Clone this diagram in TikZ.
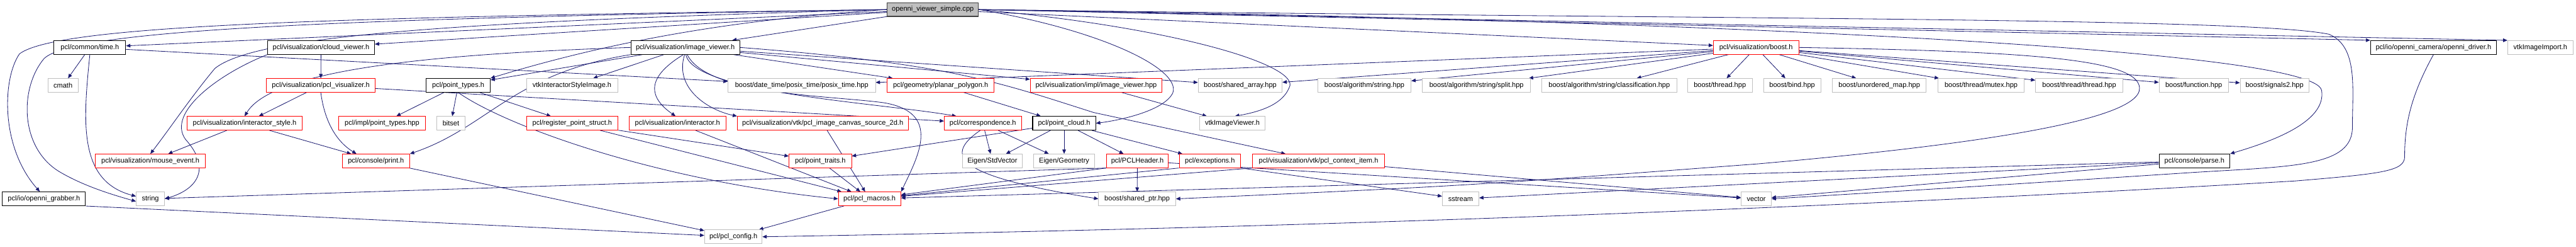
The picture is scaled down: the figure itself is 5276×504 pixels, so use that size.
\documentclass[tikz,border=0pt]{standalone}
\usepackage{fontspec}
\setmainfont{Liberation Sans}
\usetikzlibrary{arrows.meta,backgrounds}
\definecolor{edg}{HTML}{191970}
\definecolor{gbd}{HTML}{BFBFBF}
\definecolor{rbd}{HTML}{FF0000}
\definecolor{rootfill}{HTML}{BFBFBF}
\definecolor{rootbd}{HTML}{404040}

\begin{document}
\begin{tikzpicture}[
  x=0.02cm, y=-0.02cm,
  font=\fontsize{8.1}{9.7}\selectfont,
  hdr/.style={draw, fill=white, minimum height=0.56cm, inner sep=0pt, line width=0.6pt},
  blkbox/.style={hdr, draw=black, line width=0.8pt},
  redbox/.style={hdr, draw=rbd},
  grybox/.style={hdr, draw=gbd},
  rootbox/.style={hdr, draw=rootbd, fill=rootfill, line width=0.8pt},
  >={Triangle[length=5pt,width=4.2pt]},
  dep/.style={->, draw=edg, line width=0.6pt}
]
\useasboundingbox (0,0) rectangle (5276,504);
% ---------------------------------------------------------------- row 1
\node[rootbox, minimum width=3.74cm] (root) at (1910.5,19.5) {openni\_viewer\_simple.cpp};

% ---------------------------------------------------------------- row 2
\node[blkbox, minimum width=2.94cm] (time) at (184,97) {pcl/common/time.h};
\node[blkbox, minimum width=4.38cm] (cloudv) at (657.5,97) {pcl/visualization/cloud\_viewer.h};
\node[blkbox, minimum width=4.46cm] (imgv) at (1403.5,97) {pcl/visualization/image\_viewer.h};
\node[redbox, minimum width=3.50cm] (vboost) at (3596.5,97) {pcl/visualization/boost.h};
\node[blkbox, minimum width=5.16cm] (driver) at (4984,97) {pcl/io/openni\_camera/openni\_driver.h};
\node[grybox, minimum width=2.68cm] (vtkimport) at (5203,97) {vtkImageImport.h};

% ---------------------------------------------------------------- row 3
\node[grybox, minimum width=1.24cm] (cmath) at (129,174.5) {cmath};
\node[redbox, minimum width=4.44cm] (pclvis) at (657,174.5) {pcl/visualization/pcl\_visualizer.h};
\node[blkbox, minimum width=2.62cm] (ptypes) at (938.5,174.5) {pcl/point\_types.h};
\node[grybox, minimum width=3.74cm] (vtkstyle) at (1171.5,174.5) {vtkInteractorStyleImage.h};
\node[grybox, minimum width=6.04cm] (posix) at (1642,174.5) {boost/date\_time/posix\_time/posix\_time.hpp};
\node[redbox, minimum width=4.38cm] (planar) at (1926.5,174.5) {pcl/geometry/planar\_polygon.h};
\node[redbox, minimum width=5.40cm] (imghpp) at (2245,174.5) {pcl/visualization/impl/image\_viewer.hpp};
\node[grybox, minimum width=3.44cm] (sharr) at (2540,174.5) {boost/shared\_array.hpp};
\node[grybox, minimum width=3.82cm] (algstr) at (2794.5,174.5) {boost/algorithm/string.hpp};
\node[grybox, minimum width=4.44cm] (split) at (3024,174.5) {boost/algorithm/string/split.hpp};
\node[grybox, minimum width=5.52cm] (classif) at (3296,174.5) {boost/algorithm/string/classification.hpp};
\node[grybox, minimum width=2.66cm] (thread) at (3522.5,174.5) {boost/thread.hpp};
\node[grybox, minimum width=2.34cm] (bind) at (3670.5,174.5) {boost/bind.hpp};
\node[grybox, minimum width=3.84cm] (umap) at (3849,174.5) {boost/unordered\_map.hpp};
\node[grybox, minimum width=3.54cm] (mutex) at (4057.5,174.5) {boost/thread/mutex.hpp};
\node[grybox, minimum width=3.58cm] (tthread) at (4258.5,174.5) {boost/thread/thread.hpp};
\node[grybox, minimum width=2.84cm] (func) at (4493,174.5) {boost/function.hpp};
\node[grybox, minimum width=2.82cm] (sig) at (4658.5,174.5) {boost/signals2.hpp};

% ---------------------------------------------------------------- row 4
\node[redbox, minimum width=4.72cm] (istyle) at (501,252) {pcl/visualization/interactor\_style.h};
\node[redbox, minimum width=3.54cm] (ptypeshpp) at (782.5,252) {pcl/impl/point\_types.hpp};
\node[grybox, minimum width=1.18cm] (bitset) at (923.5,252) {bitset};
\node[redbox, minimum width=3.76cm] (regps) at (1172,252) {pcl/register\_point\_struct.h};
\node[redbox, minimum width=3.98cm] (inter) at (1387.5,252) {pcl/visualization/interactor.h};
\node[redbox, minimum width=7.00cm] (canvas) at (1685,252) {pcl/visualization/vtk/pcl\_image\_canvas\_source\_2d.h};
\node[redbox, minimum width=3.16cm] (corr) at (2013,252) {pcl/correspondence.h};
\node[blkbox, minimum width=2.58cm] (pcloud) at (2179.5,252) {pcl/point\_cloud.h};
\node[grybox, minimum width=2.68cm] (vtkviewer) at (2524,252) {vtkImageViewer.h};

% ---------------------------------------------------------------- row 5
\node[redbox, minimum width=4.52cm] (mouse) at (308,329) {pcl/visualization/mouse\_event.h};
\node[redbox, minimum width=2.76cm] (print) at (770,329) {pcl/console/print.h};
\node[redbox, minimum width=2.56cm] (ptraits) at (1680,329) {pcl/point\_traits.h};
\node[grybox, minimum width=2.46cm] (stdvec) at (2032.5,329) {Eigen/StdVector};
\node[grybox, minimum width=2.50cm] (geom) at (2179.5,329) {Eigen/Geometry};
\node[redbox, minimum width=2.54cm] (header) at (2329.5,329) {pcl/PCLHeader.h};
\node[redbox, minimum width=2.52cm] (except) at (2478,329) {pcl/exceptions.h};
\node[redbox, minimum width=5.42cm] (ctxitem) at (2700.5,329) {pcl/visualization/vtk/pcl\_context\_item.h};
\node[blkbox, minimum width=2.90cm] (parse) at (4494.5,329) {pcl/console/parse.h};

% ---------------------------------------------------------------- row 6
\node[blkbox, minimum width=3.40cm] (grabber) at (90,406.5) {pcl/io/openni\_grabber.h};
\node[grybox, minimum width=1.16cm] (string) at (308,406.5) {string};
\node[redbox, minimum width=2.56cm] (macros) at (1781,406.5) {pcl/pcl\_macros.h};
\node[grybox, minimum width=3.16cm] (shptr) at (2329,406.5) {boost/shared\_ptr.hpp};
\node[grybox, minimum width=1.50cm] (sstream) at (2991.5,406.5) {sstream};
\node[grybox, minimum width=1.24cm] (vector) at (3597,406.5) {vector};

% ---------------------------------------------------------------- row 7
\node[grybox, minimum width=2.36cm] (config) at (1502,484) {pcl/pcl\_config.h};

\begin{scope}[on background layer]
\fill[white] (0,0) rectangle (5276,504);
% root, to the left
\draw[dep] (root.west) .. controls (700,35) and (120,50) .. (40,110) .. controls (5,160) and (0,300) .. (grabber.120);
\draw[dep] (root.west) .. controls (700,38) and (150,60) .. (90,120) .. controls (40,180) and (40,300) .. (120,350) .. controls (170,380) and (230,398) .. (string.190);
\draw[dep] (root) -- (time);
\draw[dep] (root.west) .. controls (900,45) and (520,75) .. (440,140) .. controls (390,200) and (350,260) .. (mouse.north);
\draw[dep] (root) -- (cloudv);
\draw[dep] (root) -- (imgv);
\draw[dep] (root.west) .. controls (1500,40) and (1250,85) .. (ptypes.north east);
% root, to the right
\draw[dep] (root) -- (vboost);
\draw[dep] (root.east) -- (driver.north west);
\draw[dep] (root.east) -- (vtkimport.north west);
\draw[dep] (root.east) .. controls (2250,60) and (2420,140) .. (2402,190) .. controls (2385,225) and (2300,245) .. (pcloud.east);
\draw[dep] (root.east) .. controls (2400,55) and (2650,130) .. (2642,175) .. controls (2632,205) and (2600,225) .. (vtkviewer.70);
\draw[dep] (root.east) .. controls (3200,35) and (4740,90) .. (4755,185) .. controls (4765,250) and (4650,290) .. (parse.north east);
\draw[dep] (root.east) .. controls (3500,40) and (4600,35) .. (4770,70) .. controls (4830,95) and (4818,180) .. (4818,260) .. controls (4818,340) and (4700,340) .. (4500,352) .. controls (4100,378) .. (vector.east);

% headers of row 2
\draw[dep] (time) -- (cmath);
\draw[dep] (time.south) .. controls (170,250) and (160,370) .. (string.170);
\draw[dep] (time) -- (posix);
\draw[dep] (cloudv) -- (pclvis);
\draw[dep] (cloudv.south west) .. controls (450,150) and (340,230) .. (380,285) .. controls (430,340) and (410,385) .. (string.east);
\draw[dep] (imgv.west) .. controls (900,110) and (560,140) .. (istyle.north);
\draw[dep] (imgv) -- (ptypes);
\draw[dep] (imgv.south west) .. controls (1050,150) and (1000,260) .. (print.north east);
\draw[dep] (imgv) -- (vtkstyle);
\draw[dep] (imgv.255) .. controls (1320,160) and (1330,200) .. (inter.105);
\draw[dep] (imgv.265) .. controls (1380,180) and (1450,225) .. (canvas.north west);
\draw[dep] (imgv.275) .. controls (1420,190) and (1800,210) .. (corr.165);
\draw[dep] (imgv.285) .. controls (1450,195) and (1700,195) .. (1810,210) .. controls (1930,230) and (1880,320) .. (macros.north east);
\draw[dep] (imgv) -- (planar);
\draw[dep] (imgv) -- (imghpp);
\draw[dep] (imgv) -- (sharr);
\draw[dep] (imgv.east) .. controls (1950,130) and (2050,170) .. (2240,230) -- (ctxitem);
\foreach \t in {posix,sharr,algstr,split,classif,thread,bind,umap,mutex,tthread,func,sig}
  \draw[dep] (vboost) -- (\t);
\draw[dep] (vboost.east) .. controls (4150,105) and (4380,120) .. (4382,180) .. controls (4385,250) and (4000,300) .. (3600,335) .. controls (3000,380) .. (shptr.east);
\draw[dep] (driver.south) .. controls (4935,200) and (4925,260) .. (4925,320) .. controls (4925,350) and (4880,355) .. (4700,370) .. controls (3500,440) and (2400,470) .. (config.east);

% headers of row 3
\draw[dep] (pclvis) -- (istyle);
\draw[dep] (pclvis.south) .. controls (665,250) and (690,290) .. (print.160);
\draw[dep] (pclvis) -- (corr);
\foreach \t in {ptypeshpp,bitset,regps}
  \draw[dep] (ptypes) -- (\t);
\draw[dep] (ptypes.south) .. controls (1040,260) and (1350,370) .. (macros.west);
\draw[dep] (planar) -- (pcloud);
\draw[dep] (imghpp) -- (vtkviewer);

% headers of row 4
\draw[dep] (istyle) -- (mouse);
\draw[dep] (istyle) -- (print);
\draw[dep] (regps) -- (ptraits);
\draw[dep] (regps) -- (macros);
\draw[dep] (inter) -- (macros);
\draw[dep] (canvas) -- (macros);
\draw[dep] (corr) -- (stdvec);
\draw[dep] (corr) -- (geom);
\draw[dep] (corr.250) .. controls (1930,320) and (1960,360) .. (shptr.west);
\foreach \t in {stdvec,geom,header,except,ptraits}
  \draw[dep] (pcloud) -- (\t);

% headers of row 5
\draw[dep] (ptraits) -- (macros);
\draw[dep] (header) -- (shptr);
\draw[dep] (header) -- (vector);
\draw[dep] (header.south west) -- (macros);
\draw[dep] (header.south west) -- (string);
\draw[dep] (except.south west) -- (macros);
\draw[dep] (except.south east) -- (sstream);
\draw[dep] (ctxitem) -- (vector);
\draw[dep] (ctxitem.south west) -- (macros);
\draw[dep] (parse) -- (vector);
\draw[dep] (parse) -- (sstream);
\draw[dep] (parse) -- (macros);
\draw[dep] (print) -- (config);

% headers of row 6
\draw[dep] (grabber.south east) -- (config);
\draw[dep] (macros) -- (config);
\end{scope}
\end{tikzpicture}
\end{document}
